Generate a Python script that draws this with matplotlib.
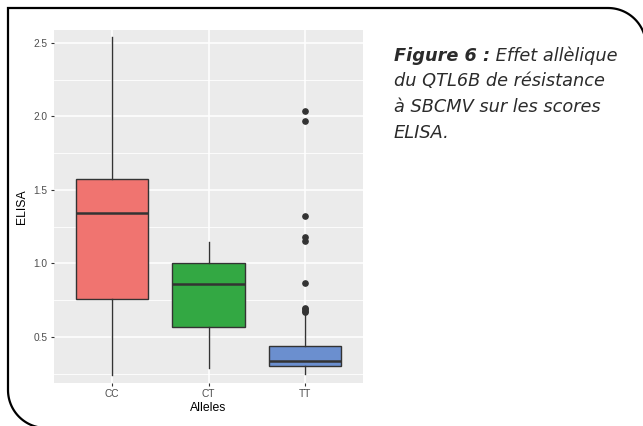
import numpy as np
import matplotlib.pyplot as plt
from matplotlib.path import Path
from matplotlib.patches import PathPatch

# boxplot summaries per allele group
alleles = ["CC", "CT", "TT"]
q1 = [0.76, 0.57, 0.30]
med = [1.34, 0.857, 0.34]
q3 = [1.575, 1.0, 0.44]
whislo = [0.24, 0.29, 0.25]
whishi = [2.54, 1.145, 0.655]
fliers = [[], [], [2.04, 1.97, 1.32, 1.18, 1.15, 0.87, 0.70, 0.69, 0.68, 0.67]]
fills = ["#F07470", "#33A843", "#6B8FCF"]

yticks = [0.5, 1.0, 1.5, 2.0, 2.5]

W, H = 643, 426
fig = plt.figure(figsize=(W / 100, H / 100), dpi=100)
fig.patch.set_facecolor("white")

ax = fig.add_axes([54 / W, 1 - 383 / H, (363 - 54) / W, (383 - 30) / H])
ax.set_facecolor("#EBEBEB")

stats = []
for i in range(len(alleles)):
    stats.append(dict(label=alleles[i], q1=q1[i], med=med[i], q3=q3[i],
                      whislo=whislo[i], whishi=whishi[i], fliers=fliers[i]))

pos = np.arange(1, len(alleles) + 1)
bp = ax.bxp(stats, positions=pos, widths=0.75, patch_artist=True, showcaps=False,
            boxprops=dict(edgecolor="#333333", linewidth=1.0),
            medianprops=dict(color="#333333", linewidth=1.8),
            whiskerprops=dict(color="#333333", linewidth=1.0),
            flierprops=dict(marker="o", markersize=3.8, markerfacecolor="#333333",
                            markeredgecolor="#333333", linestyle="none"))
for box, c in zip(bp["boxes"], fills):
    box.set_facecolor(c)

ax.set_xlim(0.4, 3.6)
ax.set_ylim(0.187, 2.588)
ax.set_yticks(yticks)
ax.set_yticklabels([f"{v:.1f}" for v in yticks])
ax.set_yticks(np.arange(0.25, 2.6, 0.5), minor=True)
ax.set_xticks(pos)
ax.set_xticklabels(alleles)

ax.grid(which="major", color="white", linewidth=1.1)
ax.grid(which="minor", axis="y", color="white", linewidth=0.6)
ax.set_axisbelow(True)
for s in ax.spines.values():
    s.set_visible(False)
ax.tick_params(which="major", length=2.5, width=0.8, color="#333333",
               labelcolor="#4D4D4D", labelsize=7.3, pad=2)
ax.tick_params(which="minor", length=0)
for t in ax.get_xticklabels() + ax.get_yticklabels():
    t.set_family("Liberation Sans")

ax.set_xlabel("Alleles", fontsize=8.8, family="Liberation Sans", labelpad=2)
ax.set_ylabel("ELISA", fontsize=8.8, family="Liberation Sans", labelpad=4)

# caption beside the chart
cap_x = 394 / W
cap_size = 12.8
lines = [("Figure 6 :", " Effet allèlique"), ("", "du QTL6B de résistance"),
         ("", "à SBCMV sur les scores"), ("", "ELISA.")]
for k, (bold, rest) in enumerate(lines):
    y = 1 - (61 + 25.5 * k) / H
    t = fig.text(cap_x, y, bold, fontsize=cap_size, fontstyle="italic", fontweight="bold",
                 family="DejaVu Sans", color="#2B2B2B", va="baseline")
    if bold:
        fig.canvas.draw()
        bb = t.get_window_extent()
        fig.text(bb.x1 / W, y, rest, fontsize=cap_size, fontstyle="italic",
                 family="DejaVu Sans", color="#2B2B2B", va="baseline")
    else:
        t.set_text(rest)
        t.set_fontweight("normal")

# rounded frame: square top-left, rounded top-right and bottom-left
r = 38
a1 = np.linspace(0, np.pi / 2, 30)
pts = [(646, 440)]
pts += [(608 + r * np.cos(a), 46 - r * np.sin(a)) for a in a1]
pts += [(8, 8), (8, 390)]
a2 = np.linspace(np.pi, np.pi * 1.5, 30)
pts += [(46 + r * np.cos(a), 390 - r * np.sin(a)) for a in a2]
pts += [(660, 428)]
pts = np.array(pts, dtype=float)
pts[:, 1] = H - pts[:, 1]
frame = PathPatch(Path(pts), transform=None, fill=False, edgecolor="black",
                  linewidth=1.6, clip_on=False)
fig.patches.append(frame)

fig.savefig("out.png", dpi=100)
